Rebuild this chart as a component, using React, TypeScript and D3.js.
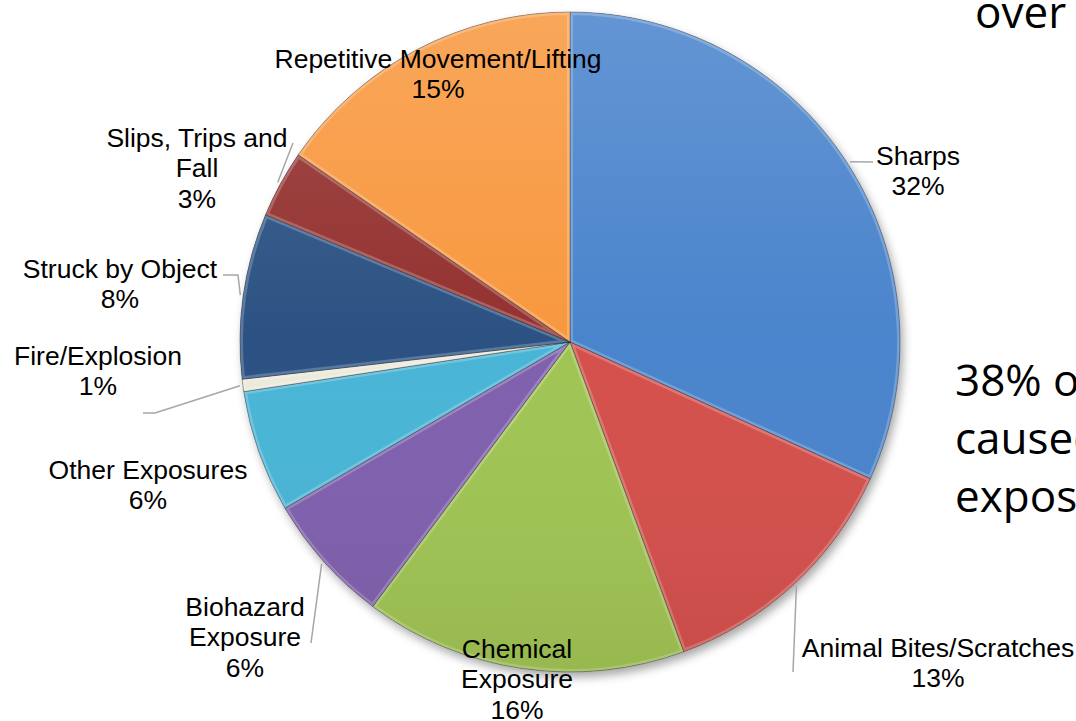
import React from "react";
import * as d3 from "d3";

// slices clockwise from 12 o'clock, shares (%)
const categories = [
  "Sharps",
  "Animal Bites/Scratches",
  "Chemical Exposure",
  "Biohazard Exposure",
  "Other Exposures",
  "Fire/Explosion",
  "Struck by Object",
  "Slips, Trips and Fall",
  "Repetitive Movement/Lifting",
];
const shares = [31.8, 12.6, 15.8, 6.4, 6.0, 0.6, 8.1, 3.3, 15.4];
const labelLines = [
  ["Sharps"],
  ["Animal Bites/Scratches"],
  ["Chemical", "Exposure"],
  ["Biohazard", "Exposure"],
  ["Other Exposures"],
  ["Fire/Explosion"],
  ["Struck by Object"],
  ["Slips, Trips and", "Fall"],
  ["Repetitive Movement/Lifting"],
];
const colors = [
  "#4a84cc",
  "#d4504c",
  "#a0c454",
  "#7f60ae",
  "#49b5d6",
  "#eceadb",
  "#2b5283",
  "#93312f",
  "#f8983f",
];
const sideText = ["38% of injuries", "caused by", "exposures"];

const W = 1076;
const H = 721;
const cx = 570;
const cy = 342;
const R = 330;
const lineH = 30.5;

// label layout: first-line centre, and leader path points from the label side
const labelLayout: { x: number; y: number; leader?: [number, number][] }[] = [
  { x: 918, y: 155, leader: [[873, 162]] },
  { x: 938, y: 647, leader: [[793, 672]] },
  { x: 517, y: 648 },
  { x: 245, y: 606, leader: [[311, 643]] },
  { x: 148, y: 469 },
  { x: 98, y: 355, leader: [[143, 413], [155, 413]] },
  { x: 120, y: 268, leader: [[223, 275], [238, 275]] },
  { x: 197, y: 137, leader: [[293, 143]] },
  { x: 438, y: 58 },
];

const App = () => {
  const pie = d3
    .pie<number>()
    .value((d) => d)
    .sort(null);
  const arcs = pie(shares);
  const arc = d3.arc<d3.PieArcDatum<number>>().innerRadius(0).outerRadius(R);

  return (
    <svg
      width={W}
      height={H}
      style={{ position: "absolute", left: 0, top: 0, background: "#fff" }}
    >
      <defs>
        <filter id="shadow" x="-20%" y="-20%" width="140%" height="140%">
          <feDropShadow dx="3" dy="5" stdDeviation="5" floodColor="#000" floodOpacity="0.35" />
        </filter>
        <linearGradient id="gloss" x1="0" y1="0" x2="0" y2="1">
          <stop offset="0%" stopColor="#fff" stopOpacity="0.14" />
          <stop offset="50%" stopColor="#fff" stopOpacity="0" />
          <stop offset="100%" stopColor="#000" stopOpacity="0.06" />
        </linearGradient>
        {arcs.map((a, i) => (
          <clipPath id={`clip${i}`} key={i}>
            <path d={arc(a) || ""} />
          </clipPath>
        ))}
      </defs>
      <g transform={`translate(${cx},${cy})`}>
        <circle r={R} fill="#888" filter="url(#shadow)" />
        {arcs.map((a, i) => (
          <g key={categories[i]}>
            <path d={arc(a) || ""} fill={colors[i]} />
            <path
              d={arc(a) || ""}
              fill="none"
              stroke="#fff"
              strokeOpacity={0.22}
              strokeWidth={6}
              clipPath={`url(#clip${i})`}
            />
            <path d={arc(a) || ""} fill="none" stroke="#000" strokeOpacity={0.3} strokeWidth={1} />
          </g>
        ))}
        <circle r={R} fill="url(#gloss)" />
      </g>
      {arcs.map((a, i) => {
        const lay = labelLayout[i];
        if (!lay.leader) return null;
        const mid = (a.startAngle + a.endAngle) / 2;
        const [ex, ey] = d3.pointRadial(mid, R + 3);
        const pts: [number, number][] = [...lay.leader, [cx + ex, cy + ey]];
        return (
          <path
            key={`l${i}`}
            d={d3.line()(pts) || ""}
            fill="none"
            stroke="#a6a6a6"
            strokeWidth={1.5}
          />
        );
      })}
      {arcs.map((a, i) => {
        const lay = labelLayout[i];
        const lines = [...labelLines[i], `${Math.round(a.value)}%`];
        return (
          <text
            key={`t${i}`}
            textAnchor="middle"
            fontFamily="'Liberation Sans', Arial, sans-serif"
            fontSize={26.5}
            fill="#000"
          >
            {lines.map((ln, j) => (
              <tspan key={j} x={lay.x} y={lay.y + j * lineH} dy="0.36em">
                {ln}
              </tspan>
            ))}
          </text>
        );
      })}
      <g fontFamily="'Open Sans', 'Noto Sans', sans-serif" fontSize={44} fill="#000">
        <text x={975} y={28}>over 1</text>
        {sideText.map((s, j) => (
          <text key={s} x={955} y={396 + j * 58}>
            {s}
          </text>
        ))}
      </g>
    </svg>
  );
};

export default App;
